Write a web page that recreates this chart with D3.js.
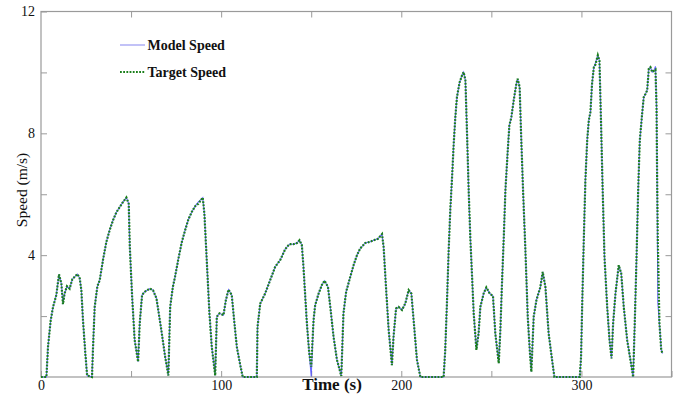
<!DOCTYPE html>
<html>
<head>
<meta charset="utf-8">
<script src="https://cdn.jsdelivr.net/npm/d3@7"></script>
<style>
  html, body { margin: 0; padding: 0; background: #fff; }
  svg { display: block; }
  text { font-family: "Liberation Serif", "Times New Roman", serif; fill: #111; }
</style>
</head>
<body>
<svg id="chart" width="678" height="395"></svg>
<script>
// Sample times (s)
const timeS = [
  0, 3, 3.9, 5.4, 6.7, 8.5, 10, 11.3, 12.2, 13.1, 14.4, 15.9, 17.4, 18.7, 20.2, 21.5, 22.4, 23.3, 24.6, 25.6,
  28.3, 28.9, 29.8, 31.3, 32.6, 34.4, 36.3, 38.1, 40, 41.8, 43.7, 45.6, 47.4, 48.7, 49.3, 50.6, 52, 53.9,
  54.8, 56.1, 57.6, 60.4, 62.2, 64.1, 66.8, 68.9, 70.7, 71.7, 73.2, 74.4, 76.3, 78.2, 80, 81.8, 83.7, 85.6,
  87.4, 89.8, 90.7, 92.1, 93.5, 94.8, 96.7, 97.6, 99.1, 101.3, 102.6, 104.1, 105.9, 107.2, 108.7, 110.6, 112,
  119.8, 120.2, 121.7, 124.4, 127.2, 130, 132.8, 135.6, 137.9, 140.2, 142.1, 143.5, 144.8, 145.7, 146.7, 147.6,
  148.9, 150, 151.3, 152.2, 154.1, 155.9, 157.4, 159.3, 160.6, 162.4, 164.3, 166.7, 167.9, 169.4, 171.7, 173.5,
  175.4, 177.2, 180, 182.8, 184.6, 187.1, 189.3, 190.2, 191.5, 193, 194.8, 195.7, 197.1, 198.5, 200.4, 202.2,
  204.1, 205.6, 206.8, 208.7, 210.6, 223.5, 224.4, 225.4, 226.3, 227.2, 228.2, 229.1, 230, 230.9, 232.4, 233.7,
  234.6, 235.6, 236.5, 237.4, 238.3, 239.3, 240.2, 241.7, 242.9, 243.9, 245.7, 247.2, 249.1, 250.9, 252.2, 254.1,
  255, 255.9, 256.9, 257.8, 259.1, 260, 261.1, 262.4, 263.9, 264.6, 265.7, 266.5, 267.6, 268.9, 270.2, 271.3,
  272.2, 273.5, 274.4, 275, 277.2, 278.5, 280, 281.8, 283.7, 285, 299.1, 299.8, 300.4, 301.3, 302.2, 303.2,
  304.1, 305, 305.9, 306.9, 307.8, 309.1, 310, 310.9, 311.8, 312.8, 314.3, 315.6, 316.7, 317.6, 318.9, 320.7,
  322.1, 323.5, 325.4, 327.2, 328.7, 329.6, 330.6, 331.5, 332.4, 333.7, 334.6, 335.6, 336.5, 337.4, 338.3, 339.3,
  340.2, 341.1, 341.7, 342, 342.4, 343.3, 344.3, 345
];

// Reference (target) speed (m/s)
const targetSpeed = [
  0, 0, 1.0, 1.87, 2.3, 2.69, 3.37, 3.07, 2.39, 2.74, 2.98, 2.9, 3.21, 3.29, 3.38, 3.24, 2.85, 1.87, 0.78, 0.05,
  0, 1.0, 2.3, 2.98, 3.18, 3.84, 4.44, 4.82, 5.15, 5.4, 5.58, 5.75, 5.89, 5.69, 4.27, 2.63, 1.21, 0.5,
  1.76, 2.69, 2.8, 2.9, 2.85, 2.58, 1.54, 0.67, 0.05, 2.3, 2.96, 3.29, 3.89, 4.44, 4.82, 5.17, 5.42, 5.61,
  5.69, 5.89, 5.36, 3.73, 2.09, 0.99, 0.05, 1.98, 2.09, 2.03, 2.52, 2.87, 2.69, 1.87, 0.99, 0.39, 0,
  0, 1.65, 2.41, 2.74, 3.18, 3.62, 3.84, 4.2, 4.36, 4.36, 4.4, 4.49, 4.33, 3.62, 2.63, 1.76,
  0.78, 0.34, 1.87, 2.36, 2.74, 3.02, 3.16, 2.96, 2.3, 1.32, 0.56, 0.03, 2.09, 2.8, 3.29, 3.67,
  4.0, 4.22, 4.4, 4.44, 4.49, 4.54, 4.69, 4.27, 2.96, 1.54, 0.39, 1.32, 2.25, 2.3, 2.2, 2.41,
  2.85, 2.74, 1.9, 0.56, 0, 0, 0.89, 2.52, 4.16, 5.48, 6.57, 7.66, 8.53, 9.19, 9.68, 9.9,
  10.01, 9.74, 7.99, 6.13, 4.6, 3.29, 2.09, 0.89, 1.43, 2.3, 2.74, 2.94, 2.74, 2.66, 1.43, 0.45,
  1.54, 3.07, 4.6, 6.13, 7.44, 8.26, 8.53, 9.08, 9.63, 9.79, 9.52, 7.99, 6.13, 4.16, 1.98, 0.89,
  0.17, 1.98, 2.3, 2.52, 2.95, 3.45, 2.96, 1.43, 0.56, 0, 0, 0.67, 2.3, 4.49, 6.46, 7.77,
  8.43, 8.7, 9.63, 10.17, 10.26, 10.56, 10.39, 8.32, 6.13, 3.94, 2.3, 1.21, 0.61, 1.76, 2.74, 3.67,
  3.4, 2.3, 1.21, 0.56, 0, 1.76, 3.94, 6.13, 7.77, 8.64, 9.19, 9.3, 9.41, 10.12, 10.17, 10.01,
  10.05, 10.09, 8.86, 6.68, 4.49, 1.76, 0.89, 0.77
];

// Simulated (model) speed (m/s)
const modelSpeed = [
  0, 0, 1.0, 1.87, 2.3, 2.69, 3.37, 3.07, 2.39, 2.74, 2.98, 2.9, 3.21, 3.29, 3.38, 3.24, 2.85, 1.87, 0.78, 0.05,
  0, 1.0, 2.3, 2.98, 3.18, 3.84, 4.44, 4.82, 5.15, 5.4, 5.58, 5.75, 5.89, 5.69, 4.27, 2.63, 1.21, 0.5,
  1.76, 2.69, 2.8, 2.9, 2.85, 2.58, 1.54, 0.67, 0.05, 2.3, 2.96, 3.29, 3.89, 4.44, 4.82, 5.17, 5.42, 5.61,
  5.75, 5.89, 5.36, 3.73, 2.09, 0.99, 0.05, 1.98, 2.09, 2.03, 2.52, 2.87, 2.69, 1.87, 0.99, 0.39, 0,
  0, 1.65, 2.41, 2.74, 3.18, 3.62, 3.84, 4.2, 4.36, 4.36, 4.4, 4.49, 4.33, 3.62, 2.63, 1.76,
  0.78, 0.02, 1.87, 2.36, 2.74, 3.02, 3.16, 2.96, 2.3, 1.32, 0.56, 0.03, 2.09, 2.8, 3.29, 3.67,
  4.0, 4.22, 4.4, 4.44, 4.49, 4.54, 4.69, 4.27, 2.96, 1.54, 0.39, 1.32, 2.25, 2.3, 2.2, 2.41,
  2.85, 2.74, 1.9, 0.56, 0, 0, 0.89, 2.52, 4.16, 5.48, 6.57, 7.66, 8.53, 9.19, 9.68, 9.9,
  10.01, 9.74, 7.99, 6.13, 4.6, 3.29, 2.09, 0.89, 1.43, 2.3, 2.74, 2.94, 2.74, 2.66, 1.43, 0.45,
  1.54, 3.07, 4.6, 6.13, 7.44, 8.26, 8.53, 9.08, 9.63, 9.79, 9.52, 7.99, 6.13, 4.16, 1.98, 0.89,
  0.17, 1.98, 2.3, 2.52, 2.95, 3.45, 2.96, 1.43, 0.56, 0, 0, 0.67, 2.3, 4.49, 6.46, 7.77,
  8.43, 8.7, 9.63, 10.17, 10.3, 10.56, 10.39, 8.32, 6.13, 3.94, 2.3, 1.21, 0.61, 1.76, 2.74, 3.67,
  3.4, 2.3, 1.21, 0.56, 0, 1.76, 3.94, 6.13, 7.77, 8.64, 9.19, 9.3, 9.41, 10.12, 10.17, 10.01,
  10.05, 10.2, 8.86, 6.68, 2.45, 1.76, 0.89, 0.77
];

// Axis ticks and labels
const xTicks = [0, 50, 100, 150, 200, 250, 300, 350];
const xTickLabels = [0, 100, 200, 300];
const yTicks = [0, 2, 4, 6, 8, 10, 12];
const yTickLabels = [4, 8, 12];

const seriesNames = ["Model Speed", "Target Speed"];
const xTitle = "Time (s)";
const yTitle = "Speed (m/s)";

const svg = d3.select("#chart");
const W = 678, H = 395;
const margin = { left: 41, right: 6.5, top: 11.5, bottom: 18 };

const x = d3.scaleLinear().domain([0, 350]).range([margin.left, W - margin.right]);
const y = d3.scaleLinear().domain([0, 12]).range([H - margin.bottom, margin.top]);

const frameColor = "#9a9a9a";
const tickLen = 6;

// Plot frame
svg.append("rect")
  .attr("x", x(0)).attr("y", y(12))
  .attr("width", x(350) - x(0)).attr("height", y(0) - y(12))
  .attr("fill", "none").attr("stroke", frameColor).attr("stroke-width", 1.2);

function styleAxis(g) {
  g.select(".domain").remove();
  g.selectAll(".tick line").attr("stroke", frameColor).attr("stroke-width", 1);
  g.selectAll(".tick text")
    .style("font-family", '"Liberation Serif", "Times New Roman", serif')
    .style("font-size", "14px").attr("fill", "#222");
}

// Bottom axis (ticks point inward)
svg.append("g").attr("transform", `translate(0,${y(0)})`)
  .call(d3.axisBottom(x).tickValues(xTicks).tickSizeInner(-tickLen).tickSizeOuter(0).tickPadding(3)
    .tickFormat(d => xTickLabels.includes(d) ? d : ""))
  .call(styleAxis);

// Top axis, ticks only
svg.append("g").attr("transform", `translate(0,${y(12)})`)
  .call(d3.axisTop(x).tickValues(xTicks.slice(1, -1)).tickSizeInner(-tickLen).tickSizeOuter(0).tickFormat(""))
  .call(styleAxis);

// Left axis
svg.append("g").attr("transform", `translate(${x(0)},0)`)
  .call(d3.axisLeft(y).tickValues(yTicks.slice(1)).tickSizeInner(-tickLen).tickSizeOuter(0).tickPadding(6)
    .tickFormat(d => yTickLabels.includes(d) ? d : ""))
  .call(styleAxis);

// Right axis, ticks only
svg.append("g").attr("transform", `translate(${x(350)},0)`)
  .call(d3.axisRight(y).tickValues(yTicks.slice(1, -1)).tickSizeInner(-tickLen).tickSizeOuter(0).tickFormat(""))
  .call(styleAxis);

// Series
const modelPts = timeS.map((t, i) => [t, modelSpeed[i]]);
const targetPts = timeS.map((t, i) => [t, targetSpeed[i]]);
const line = d3.line().x(d => x(d[0])).y(d => y(d[1]));

const modelColor = "#4d4dff";
const targetColor = "#1b7f1b";

const plot = svg.append("g");
plot.append("path").datum(modelPts)
  .attr("d", line).attr("fill", "none")
  .attr("stroke", modelColor).attr("stroke-width", 1.1).attr("stroke-opacity", 0.85);
plot.append("path").datum(targetPts)
  .attr("d", line).attr("fill", "none")
  .attr("stroke", targetColor).attr("stroke-width", 2.2)
  .attr("stroke-dasharray", "1.8,1.4");

// Legend
const legend = svg.append("g");
const legendRows = [
  { name: seriesNames[0], y: 45, color: "#aeaef5", width: 1.5, dash: null },
  { name: seriesNames[1], y: 72, color: targetColor, width: 2, dash: "1.8,1.4" }
];
legendRows.forEach(r => {
  legend.append("line")
    .attr("x1", 120).attr("x2", 145).attr("y1", r.y).attr("y2", r.y)
    .attr("stroke", r.color).attr("stroke-width", r.width)
    .attr("stroke-dasharray", r.dash);
  legend.append("text")
    .attr("x", 147.5).attr("y", r.y + 4.5)
    .style("font-size", "14px").style("font-weight", "bold")
    .attr("fill", "#222")
    .text(r.name);
});

// Axis titles
svg.append("text")
  .attr("x", 332).attr("y", 390)
  .attr("text-anchor", "middle")
  .style("font-size", "17px").style("font-weight", "bold")
  .text(xTitle);

svg.append("text")
  .attr("transform", "translate(26.5,190) rotate(-90)")
  .attr("text-anchor", "middle")
  .style("font-size", "15.5px")
  .text(yTitle);
</script>
</body>
</html>
